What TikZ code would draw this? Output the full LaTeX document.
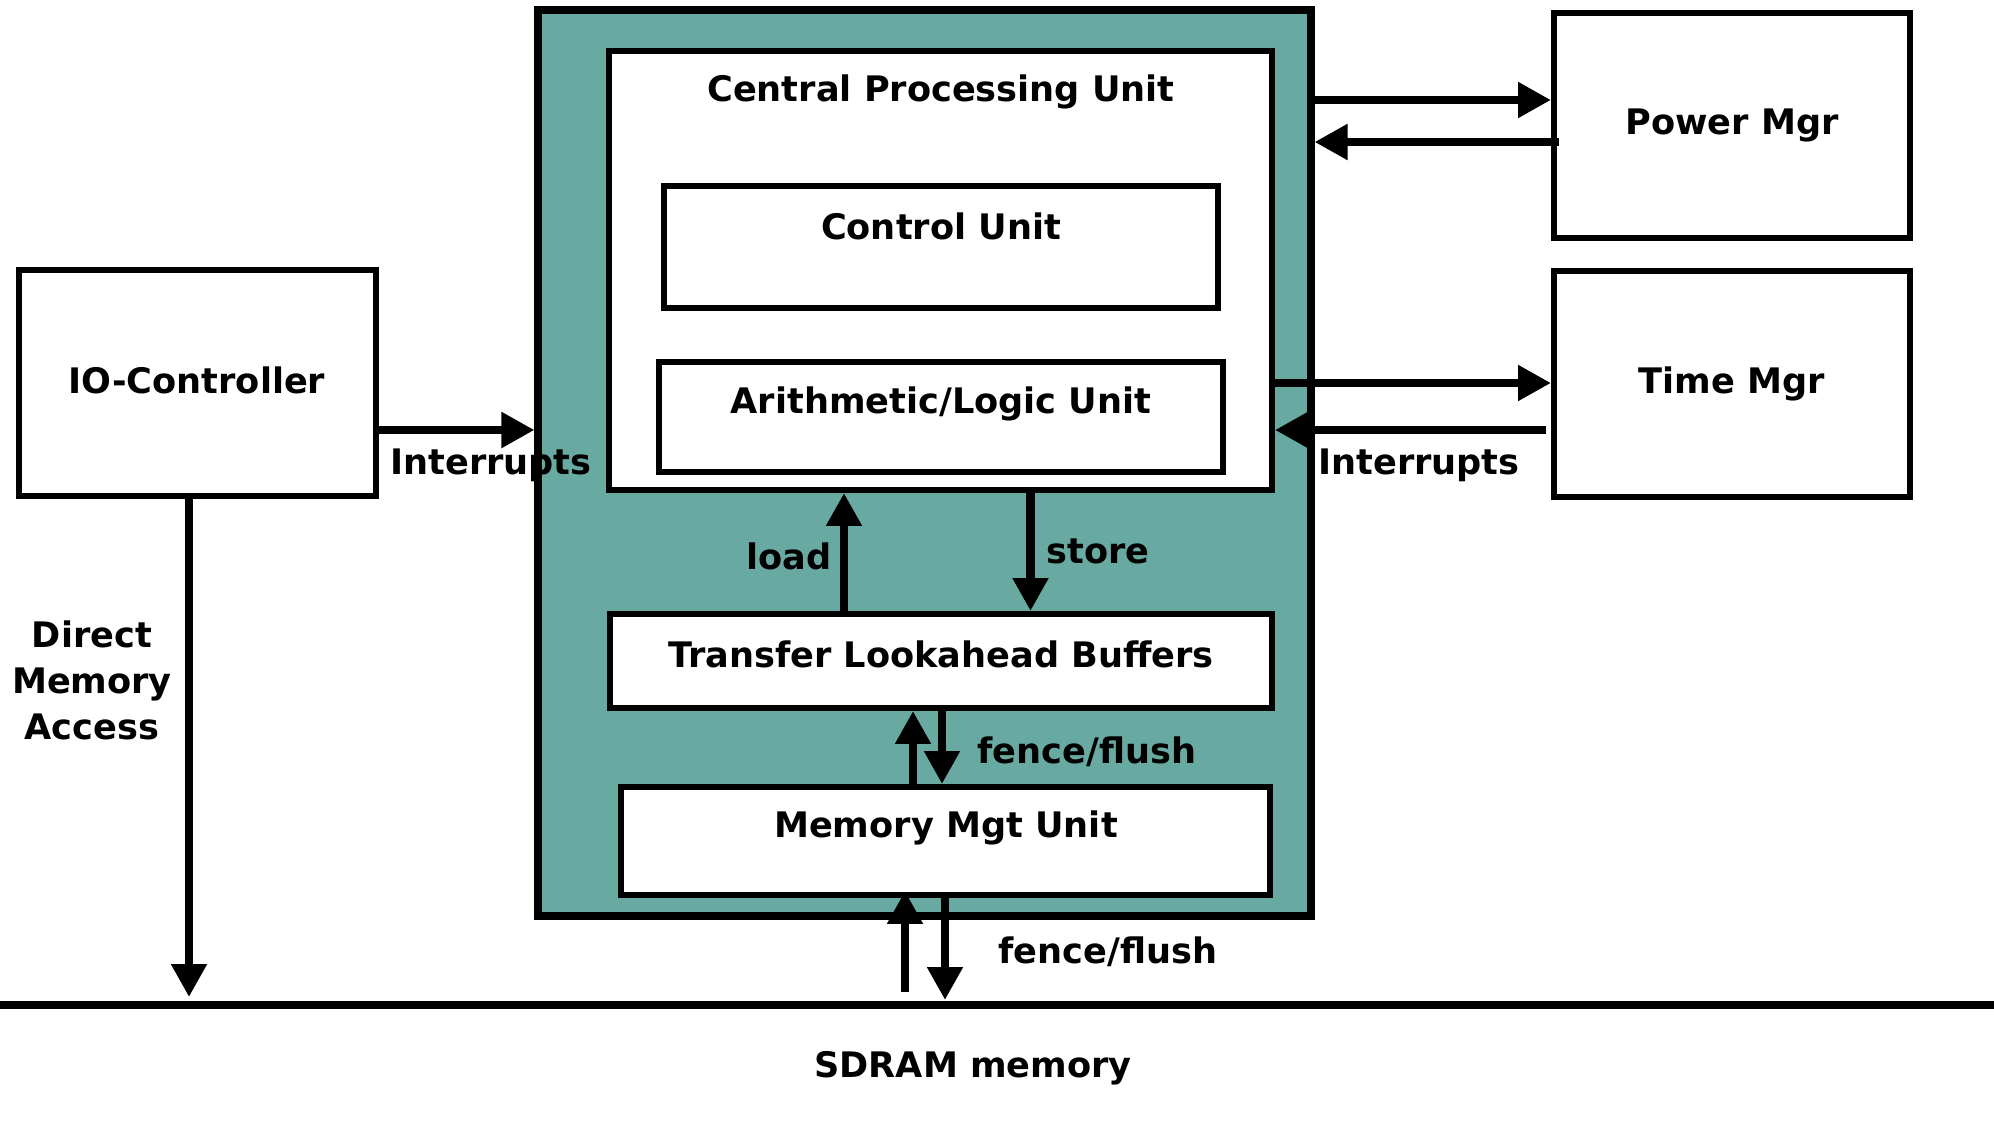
\documentclass[tikz,border=0pt]{standalone}
\usepackage{fontspec}
\setmainfont{DejaVu Sans}
\usetikzlibrary{arrows.meta}
\definecolor{tealbg}{RGB}{104,170,162}

\begin{document}
\begin{tikzpicture}[
  box/.style={draw, line width=1.7pt, fill=white, inner sep=0pt},
  arr/.style={-{Triangle[length=0.33cm,width=0.34cm]}, line width=2.3pt},
  every node/.append style={font=\bfseries\fontsize{10}{13}\selectfont}
]
\useasboundingbox (0,0) rectangle (19.94,11.39);

% processor board
\node[box, fill=tealbg, line width=2pt, minimum width=7.73cm, minimum height=9.06cm] (board) at (9.245,6.76) {};
\node[box, minimum width=6.63cm, minimum height=4.39cm] (cpu) at (9.405,8.685) {};
\node (cputitle) at (9.41,10.47) {Central Processing Unit};
\node[box, minimum width=5.54cm, minimum height=1.22cm] (cu) at (9.41,8.92) {};
\node (cutitle) at (9.41,9.13) {Control Unit};
\node[box, minimum width=5.64cm, minimum height=1.10cm] (alu) at (9.41,7.22) {};
\node (alutitle) at (9.41,7.35) {Arithmetic/Logic Unit};
\node[box, minimum width=6.62cm, minimum height=0.94cm] (tlb) at (9.41,4.78) {};
\node (tlbtitle) at (9.41,4.85) {Transfer Lookahead Buffers};
\node[box, minimum width=6.49cm, minimum height=1.08cm] (mmu) at (9.455,2.98) {};
\node (mmutitle) at (9.46,3.11) {Memory Mgt Unit};

% outside units
\node[box, minimum width=3.57cm, minimum height=2.26cm] (io) at (1.975,7.56) {};
\node (iotitle) at (1.97,7.59) {IO-Controller};
\node[box, minimum width=3.56cm, minimum height=2.25cm] (pwr) at (17.32,10.135) {Power Mgr};
\node[box, minimum width=3.56cm, minimum height=2.26cm] (tim) at (17.32,7.55) {Time Mgr};

% memory bus
\draw[line width=2pt] (0,1.34) coordinate (busL) -- (19.94,1.34) coordinate (busR);
\node (sdram) at (9.73,0.71) {SDRAM memory};

% io controller
\draw[arr] ([yshift=-0.47cm]io.east) -- ([yshift=-0.47cm]io.east -| board.west);
\node (irqL) at (4.91,6.74) {Interrupts};
\draw[arr] ([xshift=-0.085cm]io.south) -- ([xshift=-0.085cm,yshift=0.08cm]io.south |- busL);
\node[align=center, font=\bfseries\fontsize{10}{13.1}\selectfont] (dma) at (0.92,4.59) {Direct\\Memory\\Access};

% power and time managers
\draw[arr] ([yshift=0.255cm]pwr.west -| board.east) -- ([yshift=0.255cm]pwr.west);
\draw[arr] ([xshift=0.08cm,yshift=-0.165cm]pwr.west) -- ([yshift=-0.165cm]pwr.west -| board.east);
\draw[arr] ([yshift=0.01cm]tim.west -| cpu.east) -- ([yshift=0.01cm]tim.west);
\draw[arr] ([xshift=-0.05cm,yshift=-0.46cm]tim.west) -- ([yshift=-0.46cm]tim.west -| cpu.east);
\node (irqR) at (14.19,6.74) {Interrupts};

% load / store
\draw[arr] ([xshift=-0.97cm]tlb.north) -- ([xshift=-0.97cm]tlb.north |- cpu.south);
\node (load) at (7.89,5.83) {load};
\draw[arr] ([xshift=0.90cm]cpu.south) -- ([xshift=0.90cm]cpu.south |- tlb.north);
\node (store) at (10.98,5.88) {store};

% fence / flush
\draw[arr] ([xshift=-0.28cm]tlb.south |- mmu.north) -- ([xshift=-0.28cm]tlb.south);
\draw[arr] ([xshift=0.01cm]tlb.south) -- ([xshift=0.01cm]tlb.south |- mmu.north);
\node (fence1) at (10.87,3.87) {fence/flush};
\draw[arr] ([xshift=-0.405cm,yshift=0.13cm]mmu.south |- busL) -- ([xshift=-0.405cm,yshift=0.07cm]mmu.south);
\draw[arr] ([xshift=-0.005cm]mmu.south) -- ([xshift=-0.005cm,yshift=0.05cm]mmu.south |- busL);
\node (fence2) at (11.08,1.87) {fence/flush};
\end{tikzpicture}
\end{document}
